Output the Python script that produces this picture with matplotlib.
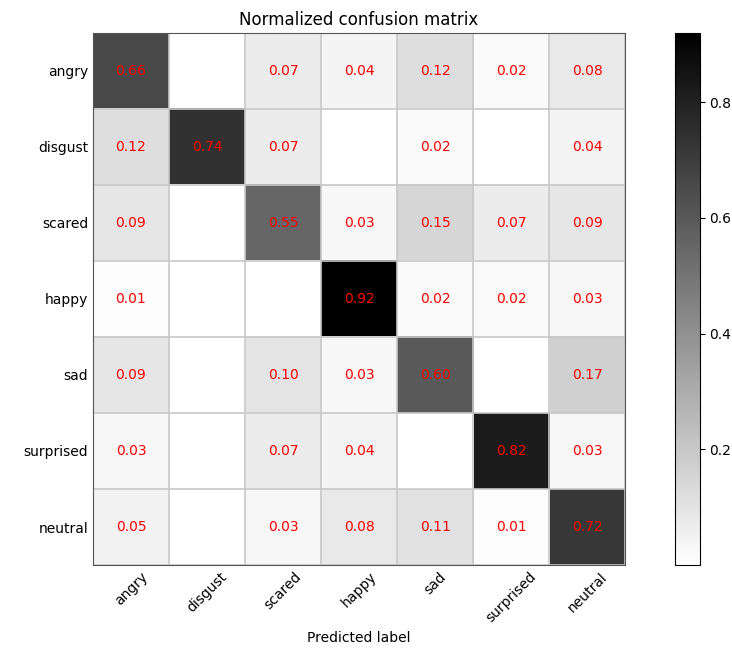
import numpy as np
import matplotlib
matplotlib.use("Agg")
import matplotlib.pyplot as plt

labels = ["angry", "disgust", "scared", "happy", "sad", "surprised", "neutral"]

angry = [0.66, 0.00, 0.07, 0.04, 0.12, 0.02, 0.08]
disgust = [0.12, 0.74, 0.07, 0.00, 0.02, 0.00, 0.04]
scared = [0.09, 0.00, 0.55, 0.03, 0.15, 0.07, 0.09]
happy = [0.01, 0.00, 0.00, 0.92, 0.02, 0.02, 0.03]
sad = [0.09, 0.00, 0.10, 0.03, 0.60, 0.00, 0.17]
surprised = [0.03, 0.00, 0.07, 0.04, 0.00, 0.82, 0.03]
neutral = [0.05, 0.00, 0.03, 0.08, 0.11, 0.01, 0.72]

cm = np.array([angry, disgust, scared, happy, sad, surprised, neutral])

fig = plt.figure(figsize=(7.32, 6.57), dpi=100)
ax = fig.add_axes([0.127, 0.140, 0.727, 0.810])
cax = fig.add_axes([0.922, 0.140, 0.034, 0.810])

im = ax.imshow(cm, interpolation="nearest", cmap="binary", vmin=0, vmax=cm.max())
ax.set_title("Normalized confusion matrix", fontsize=12)

n = len(labels)
ax.set_xticks(np.arange(n))
ax.set_xticklabels(labels, rotation=45)
ax.set_yticks(np.arange(n))
ax.set_yticklabels(labels)
ax.tick_params(length=0, labelsize=10)

# cell borders
ax.set_xticks(np.arange(-0.5, n, 1), minor=True)
ax.set_yticks(np.arange(-0.5, n, 1), minor=True)
ax.grid(which="minor", color="#c8c8c8", linewidth=1.2)
ax.tick_params(which="minor", length=0)
for s in ax.spines.values():
    s.set_color("#555555")

for i in range(n):
    for j in range(n):
        if cm[i, j] > 0:
            ax.text(j, i, f"{cm[i, j]:.2f}", ha="center", va="center",
                    color="red", fontsize=10)

ax.set_xlabel("Predicted label", fontsize=10)

cb = fig.colorbar(im, cax=cax)
cb.set_ticks([0.2, 0.4, 0.6, 0.8])
cb.ax.tick_params(labelsize=10)

fig.savefig("out.png", dpi=100)
